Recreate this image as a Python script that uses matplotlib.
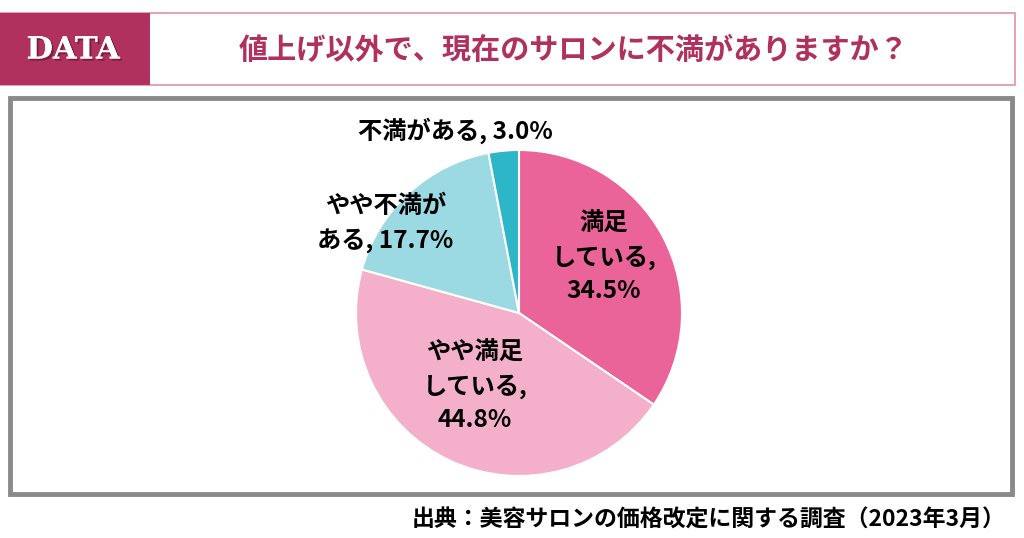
import matplotlib.pyplot as plt
from matplotlib.patches import Rectangle
import matplotlib.patheffects as pe

plt.rcParams['font.family'] = ['Noto Sans CJK JP', 'DejaVu Sans']

# données
categories = ["満足\nしている,\n34.5%", "やや満足\nしている,\n44.8%",
              "やや不満が\nある, 17.7%", "不満がある, 3.0%"]
valeurs = [34.5, 44.8, 17.7, 3.0]
couleurs = ["#EA6399", "#F4B0CB", "#9CDAE3", "#2DB6C8"]
label_pos = [(0.52, 0.34), (-0.27, -0.45), (-0.82, 0.55), (-0.39, 1.12)]
titre = "値上げ以外で、現在のサロンに不満がありますか？"
source = "出典：美容サロンの価格改定に関する調査（2023年3月）"

W, H = 1024, 538
fig = plt.figure(figsize=(W / 100, H / 100), dpi=100)
fig.patch.set_facecolor("white")

def px(x, y, w, h):
    # rectangle en pixels (origine en haut à gauche) -> coordonnées figure
    return (x / W, 1 - (y + h) / H, w / W, h / H)

# cadre du titre
bx = fig.add_axes([0, 0, 1, 1])
bx.set_xlim(0, W)
bx.set_ylim(H, 0)
bx.axis("off")
bx.add_patch(Rectangle((1, 13), 1014, 72, facecolor="white", edgecolor="#E3A3BC", lw=1.5))
bx.add_patch(Rectangle((0, 13), 150, 72, facecolor="#B0305E", edgecolor="none"))
bx.text(73, 50, "DATA", color="white", fontsize=22, fontweight="bold",
        family="DejaVu Serif", ha="center", va="center",
        path_effects=[pe.withSimplePatchShadow(offset=(1.5, -1.5), shadow_rgbFace="#6A1A38", alpha=0.8),
                      pe.Normal()])
bx.text(574, 50, titre, color="#B0305E", fontsize=21, fontweight="bold",
        ha="center", va="center")
# cadre gris du graphique
bx.add_patch(Rectangle((10, 98), 1002, 396, facecolor="white", edgecolor="#8A8A8A", lw=3.5))
bx.text(1006, 520, source, color="black", fontsize=16.5, fontweight="bold",
        ha="right", va="center")

# camembert
cx, cy, r = 519, 313, 163
ax = fig.add_axes(px(cx - r, cy - r, 2 * r, 2 * r))
ax.pie(valeurs, colors=couleurs, startangle=90, counterclock=False,
       radius=1, wedgeprops=dict(edgecolor="white", linewidth=1.5))
ax.set_xlim(-1, 1)
ax.set_ylim(-1, 1)
ax.set_aspect("equal")
ax.axis("off")
for lab, (x, y) in zip(categories, label_pos):
    ax.text(x, y, lab, fontsize=17.5, fontweight="bold", ha="center", va="center",
            linespacing=1.5, clip_on=False)

fig.savefig("out.png", dpi=100)
